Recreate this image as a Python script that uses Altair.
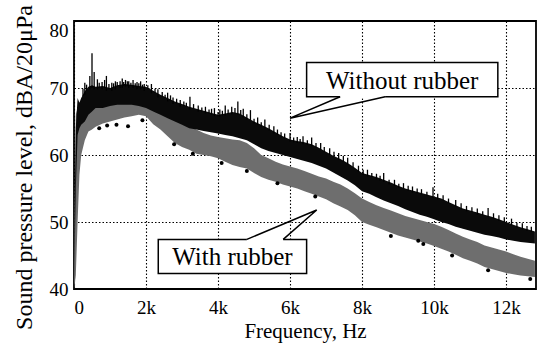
import altair as alt
import pandas as pd

# ---- spectrum envelopes (frequency in Hz, level in dBA re 20 uPa) ----
FREQ_HZ = [0, 50, 100, 150, 200, 300, 400, 500, 600, 800,
           1000, 1200, 1400, 1600, 1800, 2000, 2200, 2400, 2600, 2800,
           3000, 3200, 3400, 3600, 3800, 4000, 4200, 4400, 4600, 4800,
           5000, 5200, 5400, 5600, 5800, 6000, 6200, 6400, 6600, 6800,
           7000, 7200, 7400, 7600, 7800, 8000, 8200, 8400, 8600, 8800,
           9000, 9200, 9400, 9600, 9800, 10000, 10200, 10400, 10600, 10800,
           11000, 11200, 11400, 11600, 11800, 12000, 12200, 12400, 12600, 12800]

WITHOUT_LO = [40.0, 55.0, 63.0, 64.0, 64.5, 65.0, 66.0, 66.5, 67.0, 67.0,
              67.3, 67.5, 67.5, 67.5, 67.3, 67.0, 66.5, 66.0, 65.5, 65.0,
              64.5, 64.0, 63.8, 63.6, 63.4, 63.2, 63.0, 62.8, 62.5, 62.2,
              61.6, 61.0, 60.6, 60.3, 60.0, 59.7, 59.4, 59.1, 58.8, 58.4,
              58.0, 57.4, 56.8, 56.2, 55.5, 54.6, 54.2, 53.7, 53.2, 52.8,
              52.4, 51.9, 51.5, 51.1, 50.8, 50.4, 50.0, 49.7, 49.3, 49.0,
              48.7, 48.4, 48.1, 47.9, 47.7, 47.4, 47.2, 47.0, 46.9, 46.8]
WITHOUT_HI = [41.0, 64.0, 68.5, 67.8, 68.5, 69.5, 70.2, 70.4, 70.2, 70.3,
              70.0, 70.4, 70.6, 70.5, 70.3, 70.2, 69.6, 69.0, 68.5, 68.0,
              67.6, 67.2, 66.9, 66.6, 66.3, 66.0, 66.2, 66.4, 66.2, 65.6,
              65.0, 64.5, 64.0, 63.4, 62.8, 62.3, 62.1, 61.9, 61.6, 61.1,
              60.5, 59.9, 59.4, 58.8, 58.1, 57.3, 57.0, 56.7, 56.3, 55.9,
              55.4, 55.0, 54.7, 54.4, 54.1, 53.8, 53.5, 53.0, 52.5, 52.0,
              51.7, 51.4, 51.1, 50.8, 50.4, 50.0, 49.6, 49.2, 48.9, 48.6]

WITH_LO = [40.0, 42.0, 50.0, 57.0, 60.0, 62.2, 63.5, 63.8, 64.2, 64.7,
           65.0, 65.3, 65.6, 65.8, 66.0, 65.8, 64.6, 63.8, 62.8, 61.8,
           61.2, 60.8, 60.2, 60.0, 59.8, 59.5, 59.0, 58.5, 58.2, 58.0,
           57.3, 56.7, 56.3, 56.0, 55.6, 55.3, 55.0, 54.6, 54.2, 53.8,
           53.4, 52.8, 52.3, 51.8, 51.0, 50.0, 49.6, 49.2, 48.8, 48.4,
           48.0, 47.7, 47.4, 47.1, 46.8, 46.4, 46.0, 45.6, 45.1, 44.6,
           44.2, 43.8, 43.3, 43.0, 42.7, 42.4, 42.2, 42.0, 41.9, 41.8]
WITH_HI = [44.0, 66.0, 67.0, 67.2, 67.3, 67.6, 68.0, 68.0, 68.2, 68.4,
           68.5, 68.7, 68.8, 68.8, 68.7, 68.6, 68.2, 67.8, 67.3, 66.5,
           65.5, 64.3, 63.8, 63.3, 62.9, 62.7, 62.5, 62.3, 62.2, 61.8,
           61.0, 60.0, 59.5, 59.0, 58.6, 58.3, 58.0, 57.6, 57.2, 56.8,
           56.5, 56.0, 55.6, 55.0, 54.3, 53.5, 53.0, 52.5, 52.1, 51.7,
           51.3, 50.9, 50.6, 50.3, 50.0, 49.7, 49.3, 48.8, 48.3, 47.8,
           47.4, 47.0, 46.5, 46.2, 45.9, 45.6, 45.2, 44.8, 44.5, 44.2]

# ---- narrow peaks riding on the "without rubber" trace ----
SPIKE_HZ = [300, 440, 500, 560, 650, 780, 900, 1050, 1150, 1280,
            1340, 1430, 1520, 1640, 1750, 1850, 1950, 2150, 2330, 2600,
            2750, 2950, 3220, 3450, 3650, 3900, 4050, 4200, 4380, 4550,
            4700, 4900, 5100, 5300, 5550, 5750, 6000, 6200, 6360, 6600,
            6850, 7100, 7350, 7600, 7900, 8150, 8400, 8600, 8900, 9150,
            9400, 9650, 9970, 10250, 10600, 10900, 11200, 11500, 11800, 12150,
            12450, 12700]
SPIKE_BASE = [69.0, 69.8, 70.0, 69.8, 69.8, 69.8, 69.6, 69.6, 69.8, 70.0,
              70.0, 70.2, 70.0, 70.0, 69.8, 69.8, 69.6, 69.2, 68.6, 68.0,
              67.6, 67.2, 66.8, 66.5, 66.2, 65.8, 65.7, 65.9, 66.1, 66.0,
              65.6, 65.2, 64.5, 64.0, 63.2, 62.6, 62.0, 61.8, 61.6, 61.3,
              60.8, 60.0, 59.3, 58.6, 57.5, 56.8, 56.4, 56.0, 55.4, 55.0,
              54.4, 54.1, 53.6, 53.2, 52.3, 51.6, 51.1, 50.8, 50.2, 49.5,
              48.9, 48.5]
SPIKE_TOP = [70.8, 71.8, 75.2, 72.4, 71.3, 70.9, 71.8, 70.8, 71.0, 71.0,
             71.4, 71.2, 71.0, 71.2, 70.9, 71.0, 70.6, 70.6, 69.8, 69.3,
             68.6, 68.2, 68.7, 67.4, 67.2, 67.0, 66.8, 67.4, 67.2, 68.0,
             66.9, 66.7, 65.6, 65.3, 64.3, 63.4, 63.3, 62.7, 62.8, 62.6,
             61.8, 61.0, 60.3, 59.6, 58.4, 57.8, 57.2, 57.3, 56.3, 55.8,
             55.3, 54.9, 55.2, 54.0, 53.3, 52.4, 52.0, 52.1, 51.0, 50.5,
             49.8, 49.3]

# smaller ripples between the main peaks
RIPPLE_HZ = [250, 350, 700, 850, 970, 1100, 1200, 1380, 1480, 1580,
             1700, 1800, 1900, 2050, 2250, 2450, 2530, 2680, 2850, 3050,
             3120, 3320, 3550, 3750, 3820, 4000, 4120, 4280, 4470, 4630,
             4800, 5000, 5200, 5420, 5650, 5850, 6100, 6280, 6480, 6720,
             6950, 7220, 7480, 7750, 8030, 8270, 8500, 8750, 9020, 9280,
             9530, 9800, 10100, 10400, 10750, 11050, 11350, 11650, 11950, 12300,
             12580]
RIPPLE_BASE = [68.8, 69.6, 70.0, 70.0, 69.8, 70.0, 70.2, 70.3, 70.3, 70.3,
               70.2, 70.1, 70.0, 69.8, 69.3, 68.7, 68.5, 68.1, 67.7, 67.3,
               67.2, 66.9, 66.5, 66.2, 66.0, 65.8, 65.9, 66.1, 66.2, 66.0,
               65.3, 64.7, 64.2, 63.7, 63.0, 62.5, 61.9, 61.8, 61.5, 61.1,
               60.5, 59.7, 59.0, 58.2, 57.0, 56.7, 56.2, 55.6, 55.1, 54.7,
               54.3, 53.9, 53.4, 52.8, 52.0, 51.5, 51.0, 50.5, 50.0, 49.2,
               48.7]
RIPPLE_TOP = [69.9, 70.5, 70.8, 71.2, 70.6, 70.7, 70.9, 70.9, 71.0, 70.8,
              70.7, 70.7, 70.5, 70.4, 69.9, 69.4, 69.0, 68.9, 68.4, 68.0,
              67.8, 67.6, 67.1, 66.8, 66.9, 66.4, 66.6, 66.8, 67.0, 66.7,
              66.1, 65.4, 64.9, 64.5, 63.8, 63.2, 62.6, 62.4, 62.2, 61.8,
              61.2, 60.5, 59.9, 58.9, 57.8, 57.3, 56.9, 56.3, 55.7, 55.4,
              55.0, 54.5, 54.2, 53.5, 52.8, 52.2, 51.6, 51.3, 50.7, 49.9,
              49.4]

# ---- isolated low readings below the "with rubber" band ----
DOT_HZ = [700, 920, 1180, 1500, 1900, 2780, 3300, 4100, 4800, 5650,
          6700, 8800, 9560, 9700, 10500, 11500, 12670]
DOT_DB = [64.0, 64.4, 64.5, 64.3, 65.2, 61.6, 60.2, 58.8, 57.6, 55.8,
          53.8, 47.9, 47.2, 46.7, 45.0, 42.8, 41.5]

# ---- callout boxes ----
LABELS = ["Without rubber", "With rubber"]
BOX_X1 = [6460, 2340]
BOX_X2 = [11770, 6460]
BOX_Y1 = [68.7, 42.3]
BOX_Y2 = [73.8, 47.4]
TEXT_X = [9115, 4400]
TEXT_Y = [69.8, 43.6]
# pointer: base point A on box edge -> tip -> base point B on box edge
PTR_BASE_Y = [68.7, 47.4]
PTR_A_X = [7390, 4800]
PTR_B_X = [8640, 5810]
PTR_TIP_X = [6000, 6740]
PTR_TIP_Y = [65.5, 51.8]

SERIF = "Liberation Serif"
X_MAX = 12830
X_TITLE = "Frequency, Hz"
Y_TITLE = "Sound pressure level, dBA/20μPa"

band = pd.DataFrame({
    "freq": FREQ_HZ,
    "wo_lo": WITHOUT_LO, "wo_hi": WITHOUT_HI,
    "w_lo": WITH_LO, "w_hi": WITH_HI,
})
spikes = pd.DataFrame({
    "freq": SPIKE_HZ + RIPPLE_HZ,
    "base": SPIKE_BASE + RIPPLE_BASE,
    "top": SPIKE_TOP + RIPPLE_TOP,
})
dots = pd.DataFrame({"freq": DOT_HZ, "db": DOT_DB})
boxes = pd.DataFrame({"label": LABELS, "x1": BOX_X1, "x2": BOX_X2,
                      "y1": BOX_Y1, "y2": BOX_Y2, "tx": TEXT_X, "ty": TEXT_Y})
ptr_rows = []
for i, lab in enumerate(LABELS):
    ptr_rows.append({"label": lab, "k": 0, "x": PTR_A_X[i], "y": PTR_BASE_Y[i]})
    ptr_rows.append({"label": lab, "k": 1, "x": PTR_TIP_X[i], "y": PTR_TIP_Y[i]})
    ptr_rows.append({"label": lab, "k": 2, "x": PTR_B_X[i], "y": PTR_BASE_Y[i]})
pointers = pd.DataFrame(ptr_rows)
gaps = pd.DataFrame({"x1": PTR_A_X, "x2": PTR_B_X, "y": PTR_BASE_Y})

xs = alt.Scale(domain=[0, X_MAX], nice=False, zero=False)
ys = alt.Scale(domain=[40, 80], nice=False, zero=False)

x_axis = alt.Axis(
    values=[0, 2000, 4000, 6000, 8000, 10000, 12000],
    labelExpr="datum.value == 0 ? '0' : (datum.value / 1000) + 'k'",
    labelFont=SERIF, labelFontSize=19, labelColor="black", labelPadding=9,
    titleFont=SERIF, titleFontSize=21, titleFontWeight="normal", titleColor="black",
    titleBaseline="alphabetic", titleY=48,
)
y_axis = alt.Axis(
    values=[40, 45, 50, 55, 60, 65, 70, 75, 80],
    labelExpr="datum.value % 10 == 0 ? datum.value : ''",
    labelFont=SERIF, labelFontSize=19, labelColor="black", labelPadding=6,
    labelBaseline={"condition": {"test": "datum.value == 80", "value": "top"},
                   "value": "middle"},
    titleFont=SERIF, titleFontSize=24, titleFontWeight="normal", titleColor="black",
    titleAngle=270, titleBaseline="bottom", titleAlign="center",
    titleX=-38, titleY=146,
)


def X(field):
    return alt.X(field, scale=xs, title=X_TITLE)


def Y(field):
    return alt.Y(field, scale=ys, title=Y_TITLE)


with_band = alt.Chart(band).mark_area(color="#6e6e6e").encode(
    x=alt.X("freq:Q", scale=xs, title=X_TITLE, axis=x_axis),
    y=alt.Y("w_lo:Q", scale=ys, title=Y_TITLE, axis=y_axis),
    y2="w_hi:Q",
)
without_band = alt.Chart(band).mark_area(color="#0a0a0a").encode(
    x=X("freq:Q"), y=Y("wo_lo:Q"), y2="wo_hi:Q",
)
dot_layer = alt.Chart(dots).mark_circle(size=16, color="black", opacity=1).encode(
    x=X("freq:Q"), y=Y("db:Q"),
)
spike_layer = alt.Chart(spikes).mark_rule(color="black", strokeWidth=1.3).encode(
    x=X("freq:Q"), y=Y("base:Q"), y2="top:Q",
)
box_layer = alt.Chart(boxes).mark_rect(fill="white", stroke="black", strokeWidth=1.5).encode(
    x=X("x1:Q"), x2="x2:Q", y=Y("y1:Q"), y2="y2:Q",
)
gap_layer = alt.Chart(gaps).mark_rule(color="white", strokeWidth=3).encode(
    x=X("x1:Q"), x2="x2:Q", y=Y("y:Q"),
)
pointer_layer = alt.Chart(pointers).mark_line(color="black", strokeWidth=1.5).encode(
    x=X("x:Q"), y=Y("y:Q"), detail="label:N", order="k:Q",
)
text_layer = alt.Chart(boxes).mark_text(
    font=SERIF, fontSize=25, color="black", align="center", baseline="alphabetic"
).encode(
    x=X("tx:Q"), y=Y("ty:Q"), text="label:N",
)

chart = alt.layer(
    with_band, without_band, dot_layer, spike_layer,
    box_layer, gap_layer, pointer_layer, text_layer,
).properties(
    width=462, height=268,
    padding={"left": 74, "top": 21, "right": 5, "bottom": 55},
    autosize=alt.AutoSizeParams(type="none"),
    background="white",
).configure_view(
    stroke="black", strokeWidth=1.8,
).configure_axis(
    domain=False, ticks=False,
    grid=True, gridColor="black", gridDash=[1.5, 2], gridWidth=1.1, gridOpacity=1,
)

chart.save("out.html", embed_options={"renderer": "svg", "actions": False})
